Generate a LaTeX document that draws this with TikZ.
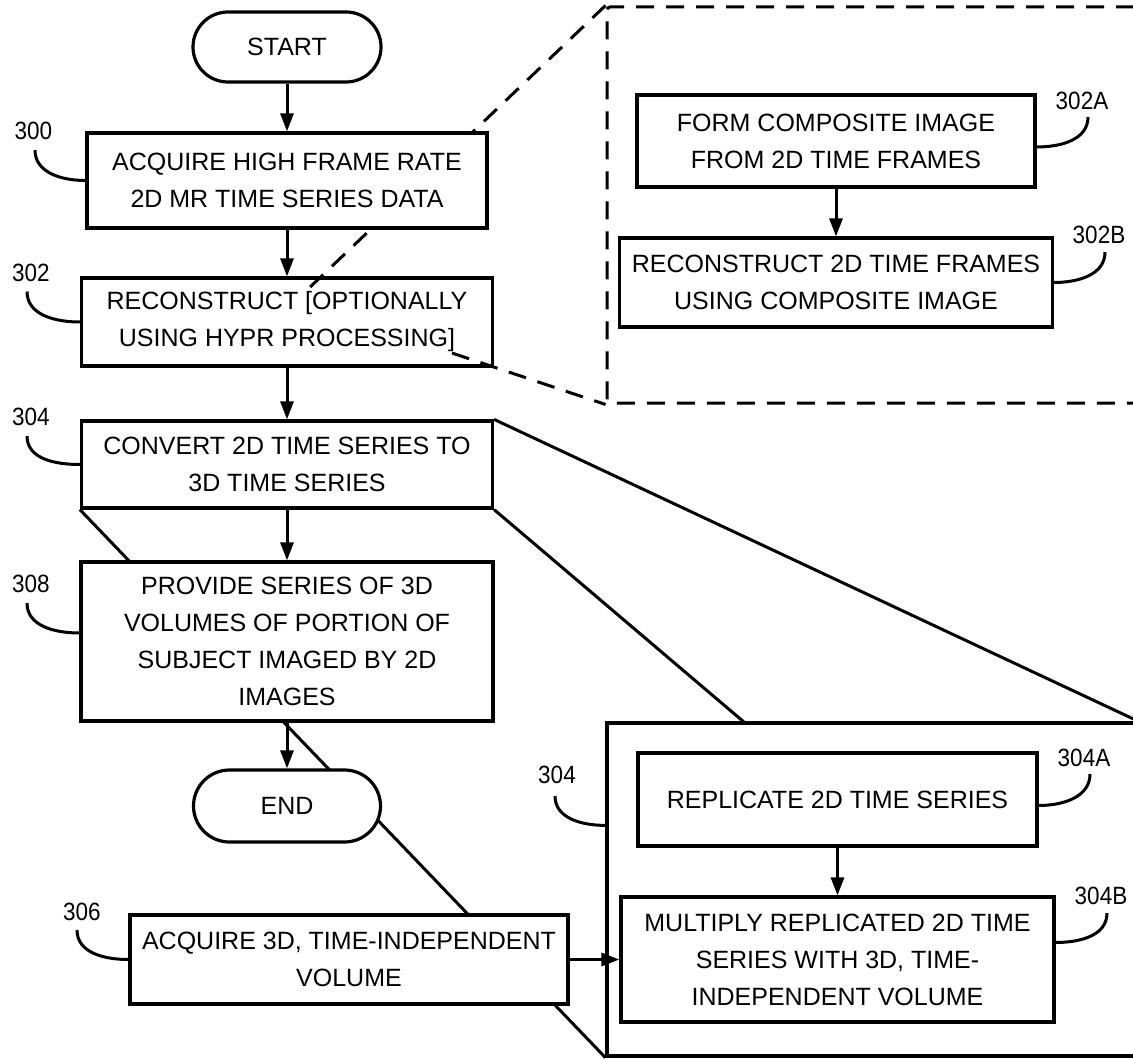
\documentclass[tikz,border=0pt]{standalone}
\usepackage{fontspec}
\setmainfont{Liberation Sans}
\newfontfamily\lblfont[FakeStretch=0.9]{Liberation Sans}
\usetikzlibrary{arrows.meta}
\pgfdeclarelayer{bg}
\pgfsetlayers{bg,main}
\begin{document}
\begin{tikzpicture}[x=1pt,y=-1pt,
  box/.style={draw, line width=3.2pt, fill=white, inner sep=0pt, align=center, font=\fontsize{25}{37}\selectfont},
  term/.style={box, rounded corners=35pt},
  lbl/.style={font=\lblfont\fontsize{25}{30}\selectfont, inner sep=0pt},
  flow/.style={line width=3pt, -{Triangle[length=18pt,width=13pt]}},
  lead/.style={line width=3pt},
  zoomline/.style={line width=3pt},
  dashline/.style={line width=3pt, dash pattern=on 18pt off 12pt},
]
\useasboundingbox (0,0) rectangle (1133,1059);

% dashed detail box (302 expanded)
\node[draw, dashline, rounded corners=3pt, minimum width=560pt, minimum height=396pt, inner sep=0pt] (dbox) at (887,205) {};

\node[box, minimum width=411pt, minimum height=88pt] (n302) at (287,322) {RECONSTRUCT [OPTIONALLY\\USING HYPR PROCESSING]};
\coordinate (brL) at (307,290);
\coordinate (brR) at (452,353);
\draw[dashline] (dbox.north west) -- (brL);
\draw[dashline] (brR) -- (dbox.south west);

\node[box, minimum width=400pt, minimum height=95pt] (n300) at (287,180.5) {ACQUIRE HIGH FRAME RATE\\2D MR TIME SERIES DATA};
\node[term, minimum width=188pt, minimum height=70pt] (start) at (287,47) {START};
\node[box, minimum width=411pt, minimum height=87pt] (n304) at (287,464.5) {CONVERT 2D TIME SERIES TO\\3D TIME SERIES};
\node[box, minimum width=412pt, minimum height=159pt] (n308) at (287,641.5) {PROVIDE SERIES OF 3D\\VOLUMES OF PORTION OF\\SUBJECT IMAGED BY 2D\\IMAGES};
\node[term, minimum width=187pt, minimum height=72pt, rounded corners=36pt] (end) at (287,806) {END};
\node[box, minimum width=438pt, minimum height=89pt] (n306) at (349,959.5) {ACQUIRE 3D, TIME-INDEPENDENT\\VOLUME};

% 302 detail
\node[box, minimum width=398pt, minimum height=92pt] (n302A) at (836,141) {FORM COMPOSITE IMAGE\\FROM 2D TIME FRAMES};
\node[box, minimum width=433pt, minimum height=89pt] (n302B) at (836,282.5) {RECONSTRUCT 2D TIME FRAMES\\USING COMPOSITE IMAGE};

% 304 detail
\node[box, minimum width=530pt, minimum height=333pt] (bigbox) at (872,889.5) {};
\node[box, minimum width=399pt, minimum height=93pt] (n304A) at (837.5,799.5) {REPLICATE 2D TIME SERIES};
\node[box, minimum width=433pt, minimum height=125pt] (n304B) at (837.5,959.5) {MULTIPLY REPLICATED 2D TIME\\SERIES WITH 3D, TIME-\\INDEPENDENT VOLUME};

% perspective lines behind boxes
\begin{pgfonlayer}{bg}
\draw[zoomline] (n304.north east) -- (bigbox.north east);
\draw[zoomline] (n304.south east) -- (bigbox.south east);
\draw[zoomline] (n304.south west) -- (bigbox.south west);
\end{pgfonlayer}

% flow arrows
\draw[flow] (start.south) -- (n300.north);
\draw[flow] (n300.south) -- (n302.north);
\draw[flow] (n302.south) -- (n304.north);
\draw[flow] (n304.south) -- (n308.north);
\draw[flow] (n308.south) -- (end.north);
\draw[flow] (n302A.south) -- (n302B.north);
\draw[flow] (n304A.south) -- (n304B.north);
\draw[flow] (n306.east) -- (n304B.west);

% reference labels
\node[lbl] (l300) at (33.5,131) {300};
\node[lbl] (l302) at (31,272.5) {302};
\node[lbl] (l304) at (31,417) {304};
\node[lbl] (l308) at (31,584) {308};
\node[lbl] (l306) at (82,912) {306};
\node[lbl] (l304b) at (557,775) {304};
\node[lbl] (l302A) at (1082,101) {302A};
\node[lbl] (l302B) at (1099,235) {302B};
\node[lbl] (l304A) at (1084,758) {304A};
\node[lbl] (l304B) at (1101,896) {304B};

\draw[lead] ([xshift=1.5pt,yshift=-10pt]l300.south) to[out=-90,in=180] (n300.west);
\draw[lead] ([xshift=-4pt,yshift=-10pt]l302.south) to[out=-90,in=180] (n302.west);
\draw[lead] ([xshift=-4pt,yshift=-10pt]l304.south) to[out=-90,in=180] (n304.west);
\draw[lead] ([xshift=-4pt,yshift=-10pt]l308.south) to[out=-90,in=180] ([yshift=8.5pt]n308.west);
\draw[lead] ([xshift=-5pt,yshift=-9pt]l306.south) to[out=-90,in=180] (n306.west);
\draw[lead] ([xshift=-2pt,yshift=-12pt]l304b.south) to[out=-90,in=180] ([yshift=-104pt]bigbox.north west);
\draw[lead] ([xshift=6pt,yshift=-7pt]l302A.south) to[out=-90,in=0] ([yshift=-6pt]n302A.east);
\draw[lead] ([xshift=6pt,yshift=-8pt]l302B.south) to[out=-90,in=0] (n302B.east);
\draw[lead] ([xshift=6pt,yshift=-7pt]l304A.south) to[out=-90,in=0] ([yshift=-6pt]n304A.east);
\draw[lead] ([xshift=6pt,yshift=-8pt]l304B.south) to[out=-90,in=0] ([yshift=17pt]n304B.east);
\end{tikzpicture}
\end{document}
